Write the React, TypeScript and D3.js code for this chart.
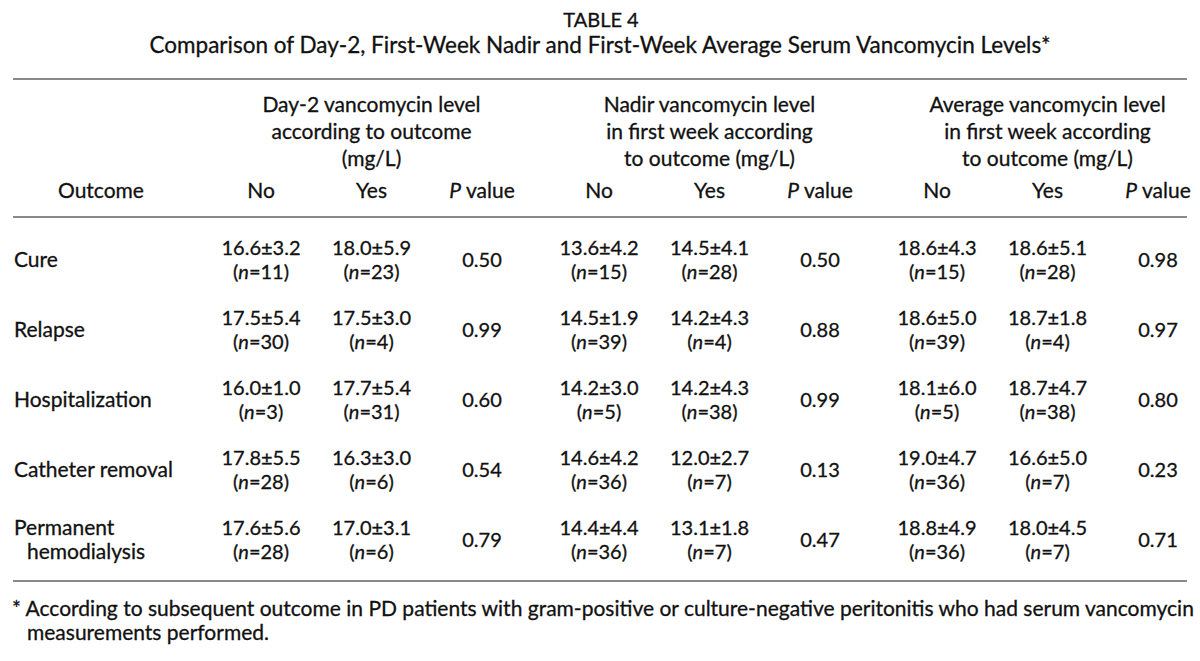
import React from "react";
import * as d3 from "d3";

const outcomes = ["Cure", "Relapse", "Hospitalization", "Catheter removal", "Permanent hemodialysis"];
const groups = ["day2", "nadir", "avg"];
const groupTitles = [
  ["Day-2 vancomycin level", "according to outcome", "(mg/L)"],
  ["Nadir vancomycin level", "in first week according", "to outcome (mg/L)"],
  ["Average vancomycin level", "in first week according", "to outcome (mg/L)"],
];
const subCols = ["No", "Yes", "P"];

const day2NoMean = [16.6, 17.5, 16.0, 17.8, 17.6];
const day2NoSd = [3.2, 5.4, 1.0, 5.5, 5.6];
const day2NoN = [11, 30, 3, 28, 28];
const day2YesMean = [18.0, 17.5, 17.7, 16.3, 17.0];
const day2YesSd = [5.9, 3.0, 5.4, 3.0, 3.1];
const day2YesN = [23, 4, 31, 6, 6];
const day2P = [0.5, 0.99, 0.6, 0.54, 0.79];

const nadirNoMean = [13.6, 14.5, 14.2, 14.6, 14.4];
const nadirNoSd = [4.2, 1.9, 3.0, 4.2, 4.4];
const nadirNoN = [15, 39, 5, 36, 36];
const nadirYesMean = [14.5, 14.2, 14.2, 12.0, 13.1];
const nadirYesSd = [4.1, 4.3, 4.3, 2.7, 1.8];
const nadirYesN = [28, 4, 38, 7, 7];
const nadirP = [0.5, 0.88, 0.99, 0.13, 0.47];

const avgNoMean = [18.6, 18.6, 18.1, 19.0, 18.8];
const avgNoSd = [4.3, 5.0, 6.0, 4.7, 4.9];
const avgNoN = [15, 39, 5, 36, 36];
const avgYesMean = [18.6, 18.7, 18.7, 16.6, 18.0];
const avgYesSd = [5.1, 1.8, 4.7, 5.0, 4.5];
const avgYesN = [28, 4, 38, 7, 7];
const avgP = [0.98, 0.97, 0.8, 0.23, 0.71];

const title = "TABLE 4";
const subtitle = "Comparison of Day-2, First-Week Nadir and First-Week Average Serum Vancomycin Levels*";
const footnote1 = "* According to subsequent outcome in PD patients with gram-positive or culture-negative peritonitis who had serum vancomycin";
const footnote2 = "measurements performed.";

const W = 1200;
const H = 661;
const FONT = "Lato, 'Open Sans', sans-serif";
const FS = 21;
const NUMFS = 20;
const TEXT = "#111";
const RULE = "#8a8a8a";

export default function App() {
  const tables = [
    { no: [day2NoMean, day2NoSd, day2NoN], yes: [day2YesMean, day2YesSd, day2YesN], p: day2P },
    { no: [nadirNoMean, nadirNoSd, nadirNoN], yes: [nadirYesMean, nadirYesSd, nadirYesN], p: nadirP },
    { no: [avgNoMean, avgNoSd, avgNoN], yes: [avgYesMean, avgYesSd, avgYesN], p: avgP },
  ];
  const xGroup = d3.scalePoint<string>().domain(groups).range([261, 937]);
  const xSub = d3.scalePoint<string>().domain(subCols).range([0, 221]);
  const yRow = d3.scalePoint<string>().domain(outcomes).range([260, 540]);
  const lineGap = 24;
  const fmt1 = d3.format(".1f");
  const fmt2 = d3.format(".2f");

  const cells: React.ReactNode[] = [];
  groups.forEach((g, gi) => {
    const gx = xGroup(g)!;
    const t = tables[gi];
    outcomes.forEach((o, i) => {
      const cy = yRow(o)!;
      [["No", t.no], ["Yes", t.yes]].forEach(([k, arr]: any) => {
        const x = gx + xSub(k)!;
        cells.push(
          <text key={`${g}-${k}-${i}-a`} x={x} y={cy - lineGap / 2} dy="0.35em" textAnchor="middle" fontSize={NUMFS}>
            {fmt1(arr[0][i])}±{fmt1(arr[1][i])}
          </text>
        );
        cells.push(
          <text key={`${g}-${k}-${i}-b`} x={x} y={cy + lineGap / 2} dy="0.35em" textAnchor="middle" fontSize={NUMFS}>
            (<tspan fontStyle="italic">n</tspan>={arr[2][i]})
          </text>
        );
      });
      cells.push(
        <text key={`${g}-p-${i}`} x={gx + xSub("P")!} y={cy} dy="0.35em" textAnchor="middle" fontSize={NUMFS}>
          {fmt2(t.p[i])}
        </text>
      );
    });
  });

  return (
    <svg width={W} height={H} style={{ position: "absolute", left: 0, top: 0, background: "#fff" }}
      fontFamily={FONT} fontSize={FS} fill={TEXT}>
      <rect x={0} y={0} width={W} height={H} fill="#fff" />
      <g stroke={TEXT} strokeWidth={0.3}>
        <text x={601} y={20} dy="0.35em" textAnchor="middle" fontSize={20}>{title}</text>
        <text x={600} y={45} dy="0.35em" textAnchor="middle" fontSize={22.5}>{subtitle}</text>
        {groups.map((g, gi) =>
          groupTitles[gi].map((s, li) => (
            <text key={`gt-${g}-${li}`} x={xGroup(g)! + xSub("Yes")!} y={105 + li * 27} dy="0.35em" textAnchor="middle">
              {s}
            </text>
          ))
        )}
        <text x={58} y={191} dy="0.35em">Outcome</text>
        {groups.map((g) =>
          subCols.map((c) => (
            <text key={`h-${g}-${c}`} x={xGroup(g)! + xSub(c)!} y={191} dy="0.35em" textAnchor="middle">
              {c === "P" ? (<><tspan fontStyle="italic">P</tspan> value</>) : c}
            </text>
          ))
        )}
        {outcomes.map((o) => {
          const cy = yRow(o)!;
          if (o === "Permanent hemodialysis") {
            return (
              <g key={o}>
                <text x={14} y={cy - lineGap / 2} dy="0.35em">Permanent</text>
                <text x={27} y={cy + lineGap / 2} dy="0.35em">hemodialysis</text>
              </g>
            );
          }
          return <text key={o} x={14} y={cy} dy="0.35em">{o}</text>;
        })}
        {cells}
        <text x={12} y={609} dy="0.35em">{footnote1}</text>
        <text x={27} y={633} dy="0.35em">{footnote2}</text>
      </g>
      <line x1={13} x2={1187} y1={79} y2={79} stroke={RULE} strokeWidth={2} />
      <line x1={13} x2={1187} y1={217} y2={217} stroke={RULE} strokeWidth={2} />
      <line x1={13} x2={1187} y1={581} y2={581} stroke={RULE} strokeWidth={2} />
    </svg>
  );
}
